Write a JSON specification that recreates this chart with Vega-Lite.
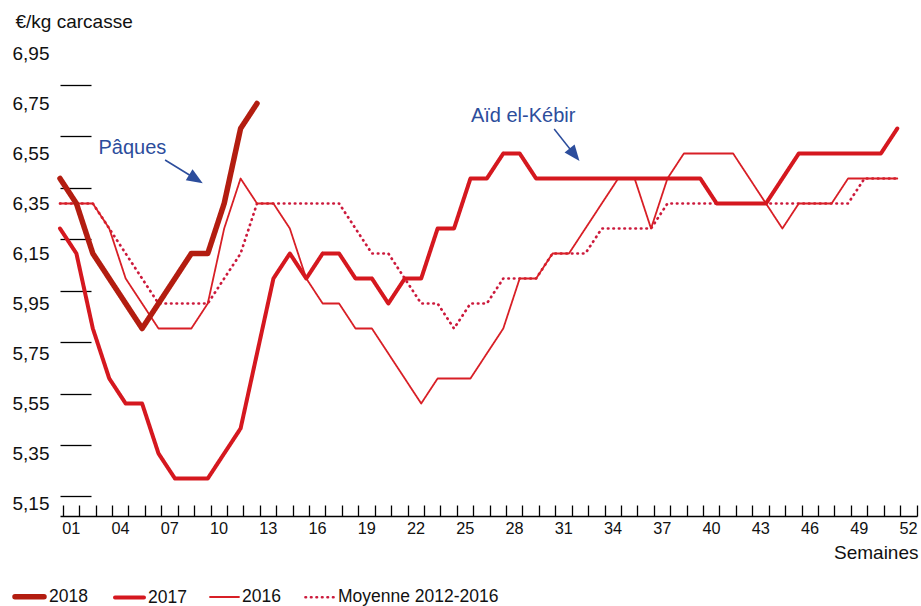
{
  "$schema": "https://vega.github.io/schema/vega-lite/v6.json",
  "width": 857,
  "height": 465,
  "autosize": {"type": "none"},
  "padding": {"left": 60, "top": 51, "right": 4, "bottom": 90},
  "background": "#ffffff",
  "config": {
    "font": "Liberation Sans",
    "view": {"stroke": null},
    "axis": {"grid": false}
  },
  "datasets": {
    "series": [
      {"s": "Moyenne 2012-2016", "w": 1, "v": 6.35}, {"s": "Moyenne 2012-2016", "w": 2, "v": 6.35}, {"s": "Moyenne 2012-2016", "w": 3, "v": 6.35}, {"s": "Moyenne 2012-2016", "w": 4, "v": 6.25},
      {"s": "Moyenne 2012-2016", "w": 5, "v": 6.15}, {"s": "Moyenne 2012-2016", "w": 6, "v": 6.05}, {"s": "Moyenne 2012-2016", "w": 7, "v": 5.95}, {"s": "Moyenne 2012-2016", "w": 8, "v": 5.95},
      {"s": "Moyenne 2012-2016", "w": 9, "v": 5.95}, {"s": "Moyenne 2012-2016", "w": 10, "v": 5.95}, {"s": "Moyenne 2012-2016", "w": 11, "v": 6.05}, {"s": "Moyenne 2012-2016", "w": 12, "v": 6.15},
      {"s": "Moyenne 2012-2016", "w": 13, "v": 6.35}, {"s": "Moyenne 2012-2016", "w": 14, "v": 6.35}, {"s": "Moyenne 2012-2016", "w": 15, "v": 6.35}, {"s": "Moyenne 2012-2016", "w": 16, "v": 6.35},
      {"s": "Moyenne 2012-2016", "w": 17, "v": 6.35}, {"s": "Moyenne 2012-2016", "w": 18, "v": 6.35}, {"s": "Moyenne 2012-2016", "w": 19, "v": 6.25}, {"s": "Moyenne 2012-2016", "w": 20, "v": 6.15},
      {"s": "Moyenne 2012-2016", "w": 21, "v": 6.15}, {"s": "Moyenne 2012-2016", "w": 22, "v": 6.05}, {"s": "Moyenne 2012-2016", "w": 23, "v": 5.95}, {"s": "Moyenne 2012-2016", "w": 24, "v": 5.95},
      {"s": "Moyenne 2012-2016", "w": 25, "v": 5.85}, {"s": "Moyenne 2012-2016", "w": 26, "v": 5.95}, {"s": "Moyenne 2012-2016", "w": 27, "v": 5.95}, {"s": "Moyenne 2012-2016", "w": 28, "v": 6.05},
      {"s": "Moyenne 2012-2016", "w": 29, "v": 6.05}, {"s": "Moyenne 2012-2016", "w": 30, "v": 6.05}, {"s": "Moyenne 2012-2016", "w": 31, "v": 6.15}, {"s": "Moyenne 2012-2016", "w": 32, "v": 6.15},
      {"s": "Moyenne 2012-2016", "w": 33, "v": 6.15}, {"s": "Moyenne 2012-2016", "w": 34, "v": 6.25}, {"s": "Moyenne 2012-2016", "w": 35, "v": 6.25}, {"s": "Moyenne 2012-2016", "w": 36, "v": 6.25},
      {"s": "Moyenne 2012-2016", "w": 37, "v": 6.25}, {"s": "Moyenne 2012-2016", "w": 38, "v": 6.35}, {"s": "Moyenne 2012-2016", "w": 39, "v": 6.35}, {"s": "Moyenne 2012-2016", "w": 40, "v": 6.35},
      {"s": "Moyenne 2012-2016", "w": 41, "v": 6.35}, {"s": "Moyenne 2012-2016", "w": 42, "v": 6.35}, {"s": "Moyenne 2012-2016", "w": 43, "v": 6.35}, {"s": "Moyenne 2012-2016", "w": 44, "v": 6.35},
      {"s": "Moyenne 2012-2016", "w": 45, "v": 6.35}, {"s": "Moyenne 2012-2016", "w": 46, "v": 6.35}, {"s": "Moyenne 2012-2016", "w": 47, "v": 6.35}, {"s": "Moyenne 2012-2016", "w": 48, "v": 6.35},
      {"s": "Moyenne 2012-2016", "w": 49, "v": 6.35}, {"s": "Moyenne 2012-2016", "w": 50, "v": 6.45}, {"s": "Moyenne 2012-2016", "w": 51, "v": 6.45}, {"s": "Moyenne 2012-2016", "w": 52, "v": 6.45},

      {"s": "2016", "w": 1, "v": 6.35}, {"s": "2016", "w": 2, "v": 6.35}, {"s": "2016", "w": 3, "v": 6.35}, {"s": "2016", "w": 4, "v": 6.25},
      {"s": "2016", "w": 5, "v": 6.05}, {"s": "2016", "w": 6, "v": 5.95}, {"s": "2016", "w": 7, "v": 5.85}, {"s": "2016", "w": 8, "v": 5.85},
      {"s": "2016", "w": 9, "v": 5.85}, {"s": "2016", "w": 10, "v": 5.95}, {"s": "2016", "w": 11, "v": 6.25}, {"s": "2016", "w": 12, "v": 6.45},
      {"s": "2016", "w": 13, "v": 6.35}, {"s": "2016", "w": 14, "v": 6.35}, {"s": "2016", "w": 15, "v": 6.25}, {"s": "2016", "w": 16, "v": 6.05},
      {"s": "2016", "w": 17, "v": 5.95}, {"s": "2016", "w": 18, "v": 5.95}, {"s": "2016", "w": 19, "v": 5.85}, {"s": "2016", "w": 20, "v": 5.85},
      {"s": "2016", "w": 21, "v": 5.75}, {"s": "2016", "w": 22, "v": 5.65}, {"s": "2016", "w": 23, "v": 5.55}, {"s": "2016", "w": 24, "v": 5.65},
      {"s": "2016", "w": 25, "v": 5.65}, {"s": "2016", "w": 26, "v": 5.65}, {"s": "2016", "w": 27, "v": 5.75}, {"s": "2016", "w": 28, "v": 5.85},
      {"s": "2016", "w": 29, "v": 6.05}, {"s": "2016", "w": 30, "v": 6.05}, {"s": "2016", "w": 31, "v": 6.15}, {"s": "2016", "w": 32, "v": 6.15},
      {"s": "2016", "w": 33, "v": 6.25}, {"s": "2016", "w": 34, "v": 6.35}, {"s": "2016", "w": 35, "v": 6.45}, {"s": "2016", "w": 36, "v": 6.45},
      {"s": "2016", "w": 37, "v": 6.25}, {"s": "2016", "w": 38, "v": 6.45}, {"s": "2016", "w": 39, "v": 6.55}, {"s": "2016", "w": 40, "v": 6.55},
      {"s": "2016", "w": 41, "v": 6.55}, {"s": "2016", "w": 42, "v": 6.55}, {"s": "2016", "w": 43, "v": 6.45}, {"s": "2016", "w": 44, "v": 6.35},
      {"s": "2016", "w": 45, "v": 6.25}, {"s": "2016", "w": 46, "v": 6.35}, {"s": "2016", "w": 47, "v": 6.35}, {"s": "2016", "w": 48, "v": 6.35},
      {"s": "2016", "w": 49, "v": 6.45}, {"s": "2016", "w": 50, "v": 6.45}, {"s": "2016", "w": 51, "v": 6.45}, {"s": "2016", "w": 52, "v": 6.45},

      {"s": "2017", "w": 1, "v": 6.25}, {"s": "2017", "w": 2, "v": 6.15}, {"s": "2017", "w": 3, "v": 5.85}, {"s": "2017", "w": 4, "v": 5.65},
      {"s": "2017", "w": 5, "v": 5.55}, {"s": "2017", "w": 6, "v": 5.55}, {"s": "2017", "w": 7, "v": 5.35}, {"s": "2017", "w": 8, "v": 5.25},
      {"s": "2017", "w": 9, "v": 5.25}, {"s": "2017", "w": 10, "v": 5.25}, {"s": "2017", "w": 11, "v": 5.35}, {"s": "2017", "w": 12, "v": 5.45},
      {"s": "2017", "w": 13, "v": 5.75}, {"s": "2017", "w": 14, "v": 6.05}, {"s": "2017", "w": 15, "v": 6.15}, {"s": "2017", "w": 16, "v": 6.05},
      {"s": "2017", "w": 17, "v": 6.15}, {"s": "2017", "w": 18, "v": 6.15}, {"s": "2017", "w": 19, "v": 6.05}, {"s": "2017", "w": 20, "v": 6.05},
      {"s": "2017", "w": 21, "v": 5.95}, {"s": "2017", "w": 22, "v": 6.05}, {"s": "2017", "w": 23, "v": 6.05}, {"s": "2017", "w": 24, "v": 6.25},
      {"s": "2017", "w": 25, "v": 6.25}, {"s": "2017", "w": 26, "v": 6.45}, {"s": "2017", "w": 27, "v": 6.45}, {"s": "2017", "w": 28, "v": 6.55},
      {"s": "2017", "w": 29, "v": 6.55}, {"s": "2017", "w": 30, "v": 6.45}, {"s": "2017", "w": 31, "v": 6.45}, {"s": "2017", "w": 32, "v": 6.45},
      {"s": "2017", "w": 33, "v": 6.45}, {"s": "2017", "w": 34, "v": 6.45}, {"s": "2017", "w": 35, "v": 6.45}, {"s": "2017", "w": 36, "v": 6.45},
      {"s": "2017", "w": 37, "v": 6.45}, {"s": "2017", "w": 38, "v": 6.45}, {"s": "2017", "w": 39, "v": 6.45}, {"s": "2017", "w": 40, "v": 6.45},
      {"s": "2017", "w": 41, "v": 6.35}, {"s": "2017", "w": 42, "v": 6.35}, {"s": "2017", "w": 43, "v": 6.35}, {"s": "2017", "w": 44, "v": 6.35},
      {"s": "2017", "w": 45, "v": 6.45}, {"s": "2017", "w": 46, "v": 6.55}, {"s": "2017", "w": 47, "v": 6.55}, {"s": "2017", "w": 48, "v": 6.55},
      {"s": "2017", "w": 49, "v": 6.55}, {"s": "2017", "w": 50, "v": 6.55}, {"s": "2017", "w": 51, "v": 6.55}, {"s": "2017", "w": 52, "v": 6.65},

      {"s": "2018", "w": 1, "v": 6.45}, {"s": "2018", "w": 2, "v": 6.35}, {"s": "2018", "w": 3, "v": 6.15}, {"s": "2018", "w": 4, "v": 6.05},
      {"s": "2018", "w": 5, "v": 5.95}, {"s": "2018", "w": 6, "v": 5.85}, {"s": "2018", "w": 7, "v": 5.95}, {"s": "2018", "w": 8, "v": 6.05},
      {"s": "2018", "w": 9, "v": 6.15}, {"s": "2018", "w": 10, "v": 6.15}, {"s": "2018", "w": 11, "v": 6.35}, {"s": "2018", "w": 12, "v": 6.65},
      {"s": "2018", "w": 13, "v": 6.75}
    ],
    "notes": [
      {"label": "Pâques", "w": 5.41, "v": 6.548},
      {"label": "Aïd el-Kébir", "w": 29.21, "v": 6.675}
    ],
    "arrows": [
      {"name": "Pâques", "w": 7.40, "v": 6.524, "w2": 9.28, "v2": 6.448},
      {"name": "Aïd", "w": 31.10, "v": 6.648, "w2": 32.34, "v2": 6.545}
    ]
  },
  "resolve": {"axis": {"x": "independent", "y": "independent"}},
  "layer": [
    {
      "data": {"name": "series"},
      "mark": {"type": "line", "strokeCap": "round", "strokeJoin": "round"},
      "encoding": {
        "x": {
          "field": "w", "type": "quantitative",
          "scale": {"domain": [1, 53.2], "nice": false, "zero": false},
          "axis": {
            "values": [1.17, 2.17, 3.17, 4.17, 5.17, 6.17, 7.17, 8.17, 9.17, 10.17, 11.17, 12.17, 13.17, 14.17, 15.17, 16.17, 17.17, 18.17, 19.17, 20.17, 21.17, 22.17, 23.17, 24.17, 25.17, 26.17, 27.17, 28.17, 29.17, 30.17, 31.17, 32.17, 33.17, 34.17, 35.17, 36.17, 37.17, 38.17, 39.17, 40.17, 41.17, 42.17, 43.17, 44.17, 45.17, 46.17, 47.17, 48.17, 49.17, 50.17, 51.17, 52.17, 53.17],
            "labelExpr": "(round(datum.value) - 1) % 3 == 0 ? (round(datum.value) < 10 ? '0' + round(datum.value) : '' + round(datum.value)) : ''",
            "tickSize": -11, "tickColor": "#000000", "tickWidth": 1.3,
            "domainColor": "#000000", "domainWidth": 1.3,
            "labelOffset": 8, "labelPadding": 15, "labelFontSize": 16.3, "labelColor": "#111111",
            "labelFlush": false, "labelOverlap": false, "labelBound": false,
            "title": "Semaines", "titleFontSize": 19, "titleFontWeight": "normal", "titleColor": "#111111",
            "titleAnchor": "end", "titleAlign": "right", "titleBaseline": "alphabetic", "titleX": 858, "titleY": 42
          }
        },
        "y": {
          "field": "v", "type": "quantitative",
          "scale": {"domain": [5.1, 6.96], "nice": false, "zero": false},
          "axis": {
            "orient": "left",
            "values": [5.15, 5.35, 5.55, 5.75, 5.95, 6.15, 6.35, 6.55, 6.75, 6.95],
            "labelExpr": "replace(format(datum.value, '.2f'), '.', ',')",
            "ticks": false, "domain": false,
            "labelPadding": 11, "labelFontSize": 19, "labelColor": "#111111", "labelOverlap": false, "labelBound": false, "labelFlush": false,
            "title": "€/kg carcasse", "titleFontSize": 19, "titleFontWeight": "normal", "titleColor": "#111111",
            "titleAngle": 0, "titleAlign": "left", "titleBaseline": "alphabetic", "titleX": -45, "titleY": -24
          }
        },
        "color": {
          "field": "s", "type": "nominal",
          "scale": {"domain": ["2018", "2017", "2016", "Moyenne 2012-2016"], "range": ["#b31d10", "#d5181f", "#d81f26", "#cc1a3c"]},
          "legend": {
            "orient": "none", "legendX": -48, "legendY": 528, "direction": "horizontal", "title": null,
            "symbolType": "stroke", "symbolSize": 841, "labelFontSize": 17.5, "labelColor": "#111111", "labelLimit": 400,
            "labelOffset": 2, "columnPadding": 19,
            "encode": {"symbols": {"update": {"strokeCap": {"value": "round"}}}}
          }
        },
        "strokeWidth": {
          "field": "s", "type": "nominal",
          "scale": {"type": "ordinal", "domain": ["2018", "2017", "2016", "Moyenne 2012-2016"], "range": [5.5, 4, 1.8, 2.7]},
          "legend": {
            "orient": "none", "legendX": -48, "legendY": 528, "direction": "horizontal", "title": null,
            "symbolType": "stroke", "symbolSize": 841, "labelFontSize": 17.5, "labelColor": "#111111", "labelLimit": 400,
            "labelOffset": 2, "columnPadding": 19
          }
        },
        "strokeDash": {
          "field": "s", "type": "nominal",
          "scale": {"domain": ["2018", "2017", "2016", "Moyenne 2012-2016"], "range": [[1, 0], [1, 0], [1, 0], [0.5, 5]]},
          "legend": {
            "orient": "none", "legendX": -48, "legendY": 528, "direction": "horizontal", "title": null,
            "symbolType": "stroke", "symbolSize": 841, "labelFontSize": 17.5, "labelColor": "#111111", "labelLimit": 400,
            "labelOffset": 2, "columnPadding": 19
          }
        },
        "order": {"field": "w", "type": "quantitative"}
      }
    },
    {
      "mark": {"type": "rule", "color": "#000000", "strokeWidth": 1.3},
      "encoding": {
        "x": {"datum": 1, "type": "quantitative", "axis": null},
        "y": {
          "datum": 6.824, "type": "quantitative",
          "axis": {
            "orient": "left",
            "values": [6.824, 6.618, 6.412, 6.206, 6.001, 5.795, 5.590, 5.384, 5.178],
            "labels": false, "domain": false, "grid": false,
            "ticks": true, "tickSize": -31, "tickColor": "#000000", "tickWidth": 1.3,
            "title": null
          }
        },
        "y2": {"datum": 4.976}
      }
    },
    {
      "data": {"name": "arrows"},
      "mark": {"type": "rule", "color": "#2c4d9c", "strokeWidth": 1.5},
      "encoding": {
        "x": {"field": "w", "type": "quantitative", "axis": null},
        "y": {"field": "v", "type": "quantitative", "axis": null},
        "x2": {"field": "w2"},
        "y2": {"field": "v2"}
      }
    },
    {
      "data": {"name": "arrows"},
      "transform": [{"filter": "datum.name == 'Pâques'"}],
      "mark": {"type": "point", "shape": "M0,-1L0.8,1L-0.8,1Z", "size": 256, "filled": true, "color": "#2c4d9c", "opacity": 1, "angle": 122},
      "encoding": {
        "x": {"field": "w2", "type": "quantitative", "axis": null},
        "y": {"field": "v2", "type": "quantitative", "axis": null}
      }
    },
    {
      "data": {"name": "arrows"},
      "transform": [{"filter": "datum.name == 'Aïd'"}],
      "mark": {"type": "point", "shape": "M0,-1L0.8,1L-0.8,1Z", "size": 256, "filled": true, "color": "#2c4d9c", "opacity": 1, "angle": 141.7},
      "encoding": {
        "x": {"field": "w2", "type": "quantitative", "axis": null},
        "y": {"field": "v2", "type": "quantitative", "axis": null}
      }
    },
    {
      "data": {"name": "notes"},
      "mark": {"type": "text", "color": "#2c4d9c", "fontSize": 20, "align": "center", "baseline": "alphabetic"},
      "encoding": {
        "x": {"field": "w", "type": "quantitative", "axis": null},
        "y": {"field": "v", "type": "quantitative", "axis": null},
        "text": {"field": "label"}
      }
    }
  ]
}
